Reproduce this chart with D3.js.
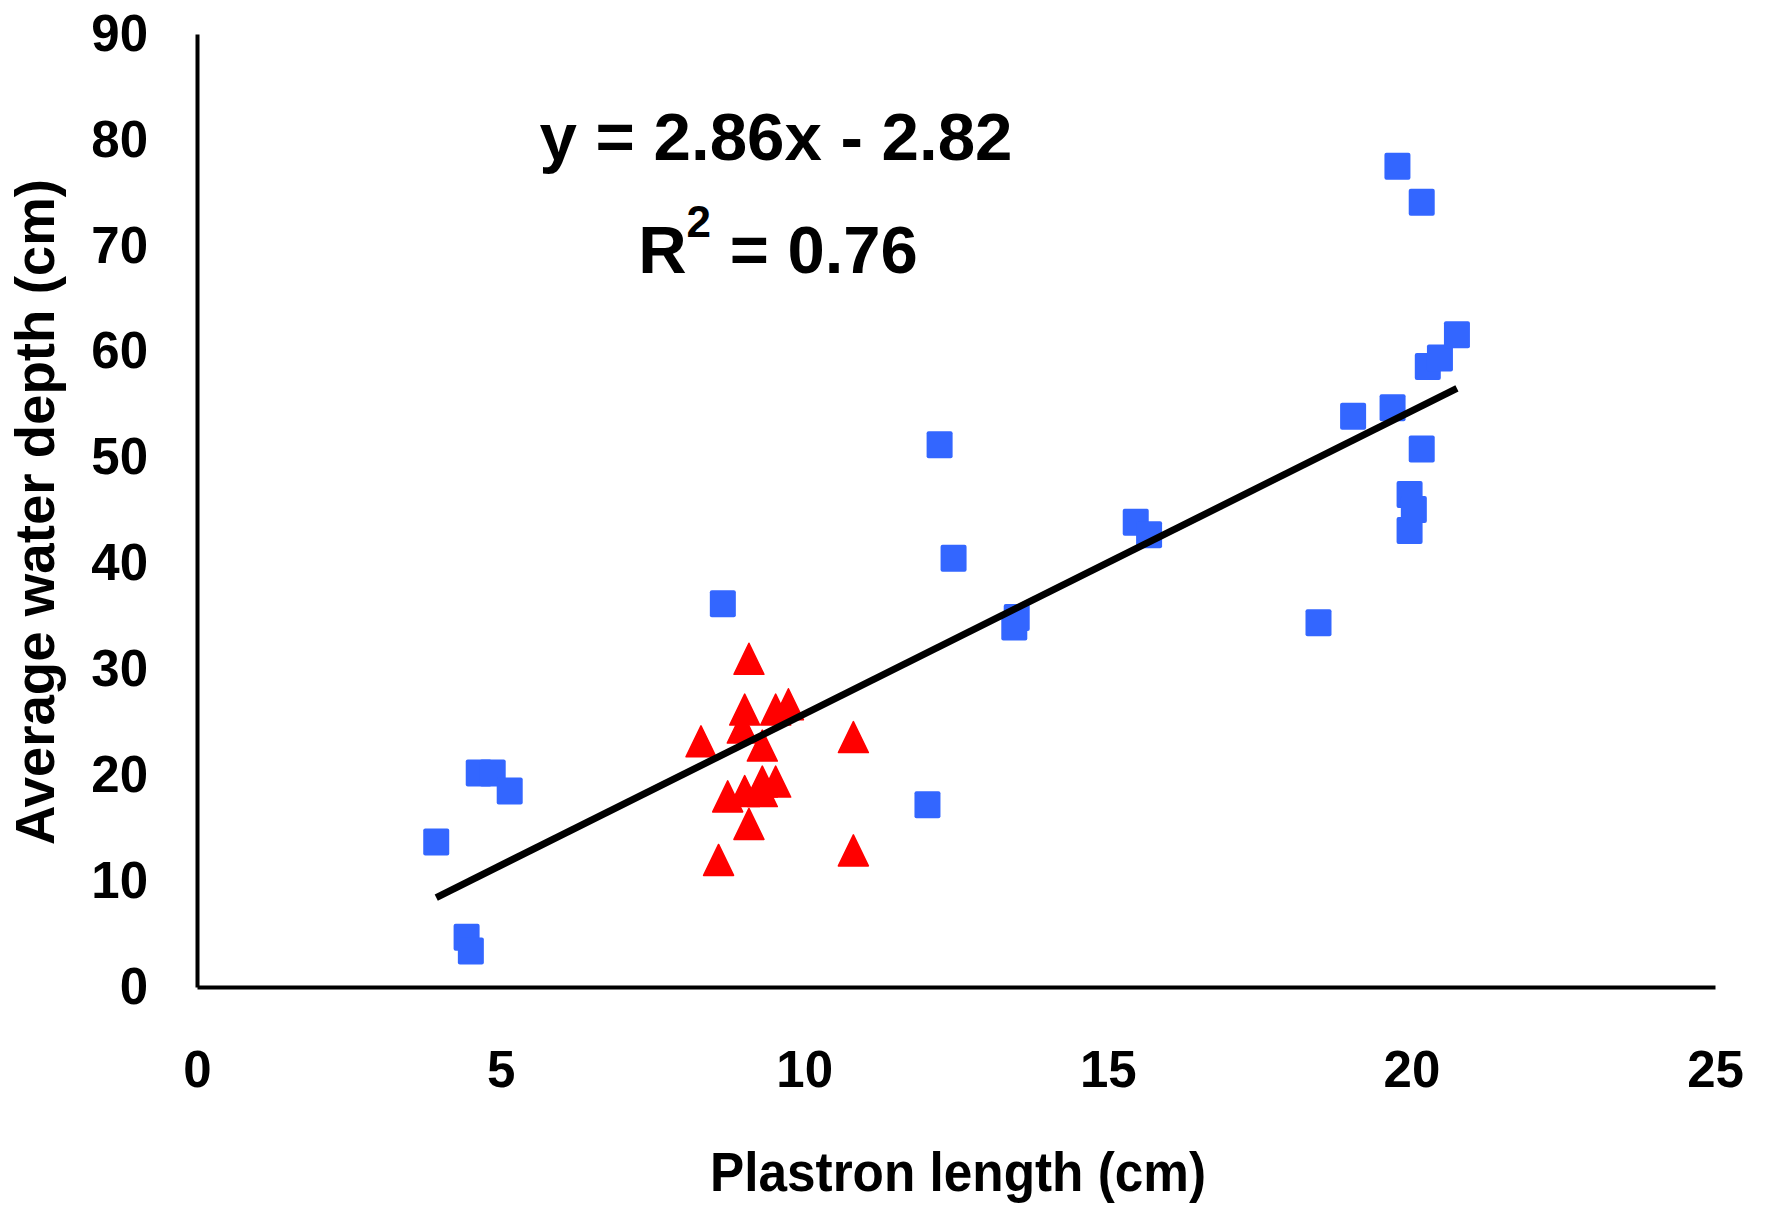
<!DOCTYPE html>
<html>
<head>
<meta charset="utf-8">
<script src="https://cdnjs.cloudflare.com/ajax/libs/d3/7.8.5/d3.min.js"></script>
<style>
    html, body { margin: 0; padding: 0; background: #fff; }
    svg { display: block; font-family: "Liberation Sans", Arial, sans-serif; font-weight: bold; }
</style>
</head>
<body>
<svg id="chart"></svg>
<script>
// blue squares
var blueX = [3.94, 4.44, 4.51, 4.64, 4.87, 5.15, 8.66, 12.03, 12.23, 12.46, 13.46, 13.5, 15.46, 15.68, 18.47, 19.04, 19.69, 19.77, 19.97, 20.04, 19.97, 20.17, 20.17, 20.27, 20.47, 20.75];
var blueY = [13.7, 4.7, 3.4, 20.2, 20.2, 18.5, 36.2, 17.2, 51.2, 40.5, 34.0, 34.9, 43.9, 42.7, 34.4, 53.9, 54.7, 77.5, 46.5, 45.1, 43.1, 50.8, 74.1, 58.6, 59.4, 61.6];

// red triangles
var redX = [9.09, 9.02, 9.53, 9.74, 8.98, 8.30, 9.31, 10.81, 8.74, 9.02, 9.31, 9.53, 9.31, 9.09, 8.59, 10.81];
var redY = [31.0, 26.2, 26.2, 26.7, 24.5, 23.2, 22.8, 23.6, 18.0, 18.5, 19.4, 19.4, 18.5, 15.4, 12.0, 12.9];

var xTicks = [0, 5, 10, 15, 20, 25];
var yTicks = [0, 10, 20, 30, 40, 50, 60, 70, 80, 90];

var slope = 2.86, intercept = -2.82, rSquared = 0.76;

var width = 1767, height = 1207;
var margin = { top: 34, right: 52, bottom: 220, left: 197 };

var svg = d3.select('#chart').attr('width', width).attr('height', height);

var x = d3.scaleLinear().domain([0, 25]).range([margin.left, width - margin.right]);
var y = d3.scaleLinear().domain([0, 90]).range([height - margin.bottom, margin.top]);

//// axes
var xAxis = d3.axisBottom(x).tickValues(xTicks).tickSize(0).tickPadding(64);
var yAxis = d3.axisLeft(y).tickValues(yTicks).tickSize(0).tickPadding(49);

svg.append('g')
    .attr('transform', 'translate(0,' + y(0) + ')')
    .call(xAxis)
    .call(function (g) {
        g.select('.domain').attr('stroke', '#000').attr('stroke-width', 4);
        g.selectAll('.tick text').attr('font-size', 51).attr('font-family', null).attr('fill', '#000');
    });

svg.append('g')
    .attr('transform', 'translate(' + x(0) + ',0)')
    .call(yAxis)
    .call(function (g) {
        g.select('.domain').attr('stroke', '#000').attr('stroke-width', 4);
        g.selectAll('.tick text').attr('font-size', 51).attr('font-family', null).attr('fill', '#000');
    });

//// axis titles
svg.append('text')
    .attr('x', 958).attr('y', 1191)
    .attr('text-anchor', 'middle')
    .attr('font-size', 56)
    .attr('textLength', 496).attr('lengthAdjust', 'spacingAndGlyphs')
    .text('Plastron length (cm)');

svg.append('text')
    .attr('transform', 'translate(54,512) rotate(-90)')
    .attr('text-anchor', 'middle')
    .attr('font-size', 55)
    .attr('textLength', 666).attr('lengthAdjust', 'spacingAndGlyphs')
    .text('Average water depth (cm)');

//// points
var blue = blueX.map(function (d, i) { return { x: d, y: blueY[i] }; });
var red = redX.map(function (d, i) { return { x: d, y: redY[i] }; });

svg.append('g').selectAll('rect')
    .data(blue)
    .enter().append('rect')
    .attr('x', function (d) { return x(d.x) - 13; })
    .attr('y', function (d) { return y(d.y) - 13.5; })
    .attr('width', 26).attr('height', 27)
    .attr('rx', 2)
    .attr('fill', '#3366FF');

var tri = 'M0,-15.5 L15,15.5 L-15,15.5 Z';
svg.append('g').selectAll('path')
    .data(red)
    .enter().append('path')
    .attr('d', tri)
    .attr('transform', function (d) { return 'translate(' + x(d.x) + ',' + y(d.y) + ')'; })
    .attr('fill', '#FF0000')
    .attr('stroke', '#FF0000').attr('stroke-width', 1.5).attr('stroke-linejoin', 'round');

//// trend line
var xr = d3.extent(blueX.concat(redX));
svg.append('line')
    .attr('x1', x(xr[0])).attr('y1', y(slope * xr[0] + intercept))
    .attr('x2', x(xr[1])).attr('y2', y(slope * xr[1] + intercept))
    .attr('stroke', '#000').attr('stroke-width', 7);

//// equation
svg.append('text')
    .attr('x', 776).attr('y', 160)
    .attr('text-anchor', 'middle')
    .attr('font-size', 67)
    .attr('textLength', 473).attr('lengthAdjust', 'spacingAndGlyphs')
    .text('y = ' + slope + 'x - ' + Math.abs(intercept));

var r2 = svg.append('text')
    .attr('x', 778).attr('y', 273)
    .attr('text-anchor', 'middle')
    .attr('font-size', 67);
r2.append('tspan').text('R');
r2.append('tspan').attr('font-size', 44).attr('dy', -36).text('2');
r2.append('tspan').attr('dy', 36).text(' = ' + rSquared);
</script>
</body>
</html>
